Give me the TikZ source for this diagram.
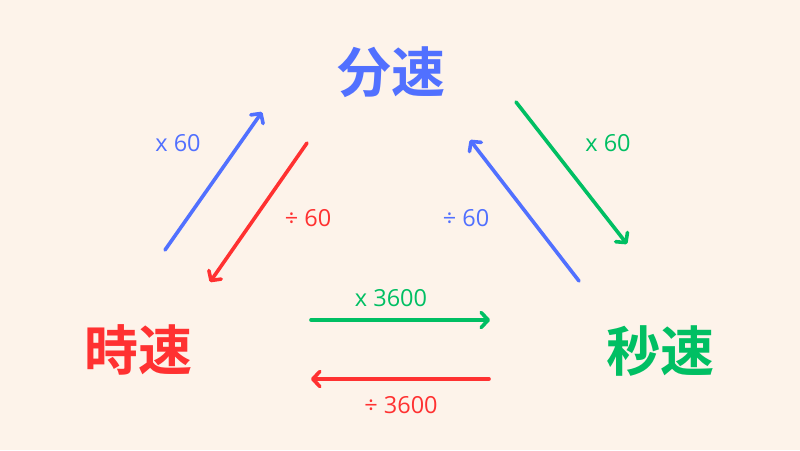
\documentclass[tikz,border=0pt]{standalone}
\usepackage{fontspec}
\setmainfont{Open Sans}
\newfontfamily\cjk{Noto Sans CJK JP}[BoldFont={* Bold}]
\usetikzlibrary{arrows.meta}
\definecolor{bg}{HTML}{FDF3EA}
\definecolor{fblue}{HTML}{5170FF}
\definecolor{fred}{HTML}{FF3131}
\definecolor{fgreen}{HTML}{00BF63}

\begin{document}
\begin{tikzpicture}[x=1pt,y=-1pt,
    speed/.style={font=\cjk\bfseries\fontsize{54}{60}\selectfont},
    conv/.style={font=\fontsize{23.5}{28}\selectfont},
    arr/.style={line width=3.6pt,line cap=round,-{Straight Barb[length=7pt,width=15pt,line cap=round,line join=round]}}]
      \useasboundingbox[fill=bg] (0,0) rectangle (800,450);

      % speeds
      \node[speed,text=fblue] (m) at (391,72) {分速};
      \node[speed,text=fred] (h) at (138,350) {時速};
      \node[speed,text=fgreen] (s) at (660,351) {秒速};

      % arrow ends
      \coordinate (hm1) at (165,250);
      \coordinate (hm2) at (262,112);
      \coordinate (mh1) at (307,143);
      \coordinate (mh2) at (210,282);
      \coordinate (sm1) at (579,281);
      \coordinate (sm2) at (470,140);
      \coordinate (ms1) at (516,102);
      \coordinate (ms2) at (627,244);
      \coordinate (hs1) at (311,320);
      \coordinate (hs2) at (490,320);
      \coordinate (sh1) at (489,379);
      \coordinate (sh2) at (311,379);

      \draw[arr,fblue] (hm1) -- (hm2);
      \draw[arr,fred] (mh1) -- (mh2);
      \draw[arr,fblue] (sm1) -- (sm2);
      \draw[arr,fgreen] (ms1) -- (ms2);
      \draw[arr,fgreen] (hs1) -- (hs2);
      \draw[arr,fred] (sh1) -- (sh2);

      % labels
      \node[conv,text=fblue] (l1) at (178,143) {x 60};
      \node[conv,text=fred] (l2) at (308,218) {÷ 60};
      \node[conv,text=fblue] (l3) at (466,218) {÷ 60};
      \node[conv,text=fgreen] (l4) at (608,143) {x 60};
      \node[conv,text=fgreen] (l5) at (391,298) {x 3600};
      \node[conv,text=fred] (l6) at (401,405) {÷ 3600};
    \end{tikzpicture}
\end{document}
